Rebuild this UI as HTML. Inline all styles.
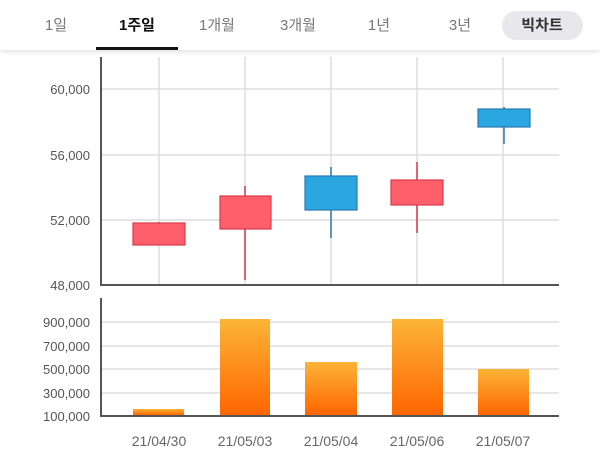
<!DOCTYPE html>
<html><head><meta charset="utf-8"><style>
body{margin:0;width:600px;height:470px;background:#fff;overflow:hidden;font-family:"Liberation Sans","Noto Sans CJK KR",sans-serif}
.hdr{position:absolute;left:0;top:0;width:600px;height:50px;background:#fff;box-shadow:0 2px 5px rgba(0,0,0,0.12)}
.t{position:absolute;top:14px;font-size:15px;color:#777;transform:translateX(-50%)}
</style></head><body>
<div class="hdr">
<span class="t" style="left:56px">1일</span>
<span class="t" style="left:137px;color:#111;font-weight:bold">1주일</span>
<span class="t" style="left:217px">1개월</span>
<span class="t" style="left:298px">3개월</span>
<span class="t" style="left:379px">1년</span>
<span class="t" style="left:460px">3년</span>
<div style="position:absolute;left:502px;top:11px;width:81px;height:29px;border-radius:15px;background:#e8e8ec"></div>
<span class="t" style="left:542px;color:#333;font-weight:bold">빅차트</span>
<div style="position:absolute;left:96px;top:47px;width:82px;height:3px;background:#111"></div>
</div>
<svg width="600" height="470" style="position:absolute;left:0;top:0;z-index:-1" font-family="Liberation Sans, sans-serif" font-size="13" fill="#555">
<defs><linearGradient id="g" x1="0" y1="0" x2="0" y2="1"><stop offset="0" stop-color="#fbb437"/><stop offset="1" stop-color="#ff6600"/></linearGradient></defs>
<g stroke="#ddd" stroke-width="1.5">
<line x1="101" y1="89" x2="559" y2="89"/><line x1="101" y1="155" x2="559" y2="155"/><line x1="101" y1="220" x2="559" y2="220"/>
<line x1="159" y1="57" x2="159" y2="285"/><line x1="245" y1="57" x2="245" y2="285"/><line x1="331" y1="57" x2="331" y2="285"/><line x1="417" y1="57" x2="417" y2="285"/><line x1="503" y1="57" x2="503" y2="285"/>
<line x1="101" y1="322" x2="559" y2="322"/><line x1="101" y1="346" x2="559" y2="346"/><line x1="101" y1="369" x2="559" y2="369"/><line x1="101" y1="393" x2="559" y2="393"/>
</g>
<g stroke="#555" stroke-width="2" fill="none">
<polyline points="101,57 101,285 559,285"/>
<polyline points="101,298 101,416 559,416"/>
</g>
<g text-anchor="end">
<text x="90" y="94">60,000</text><text x="90" y="160">56,000</text><text x="90" y="225">52,000</text><text x="90" y="290">48,000</text>
<text x="90" y="327">900,000</text><text x="90" y="351">700,000</text><text x="90" y="374">500,000</text><text x="90" y="398">300,000</text><text x="90" y="421">100,000</text>
</g>
<g stroke="#d8394a" stroke-width="1.5">
<line x1="159" y1="222" x2="159" y2="245"/>
<line x1="245" y1="186" x2="245" y2="280"/>
<line x1="417" y1="162" x2="417" y2="233"/>
</g>
<g stroke="#2a78b0" stroke-width="1.5">
<line x1="331" y1="167" x2="331" y2="238"/>
<line x1="504" y1="107" x2="504" y2="144"/>
</g>
<g fill="#ff5f6b" stroke="#d8394a" stroke-width="1.2">
<rect x="133" y="223" width="52" height="22"/>
<rect x="220" y="196" width="51" height="33"/>
<rect x="391" y="180" width="52" height="25"/>
</g>
<g fill="#2aa7e0" stroke="#2a78b0" stroke-width="1.2">
<rect x="305" y="176" width="52" height="34"/>
<rect x="478" y="109" width="52" height="18"/>
</g>
<g fill="url(#g)">
<rect x="133" y="409" width="51" height="6"/>
<rect x="220" y="319" width="50" height="96"/>
<rect x="305" y="362" width="52" height="53"/>
<rect x="392" y="319" width="51" height="96"/>
<rect x="478" y="369" width="51" height="46"/>
</g>
<g text-anchor="middle" font-size="14" fill="#666">
<text x="159" y="446">21/04/30</text><text x="245" y="446">21/05/03</text><text x="331" y="446">21/05/04</text><text x="417" y="446">21/05/06</text><text x="503" y="446">21/05/07</text>
</g>
</svg>
</body></html>
